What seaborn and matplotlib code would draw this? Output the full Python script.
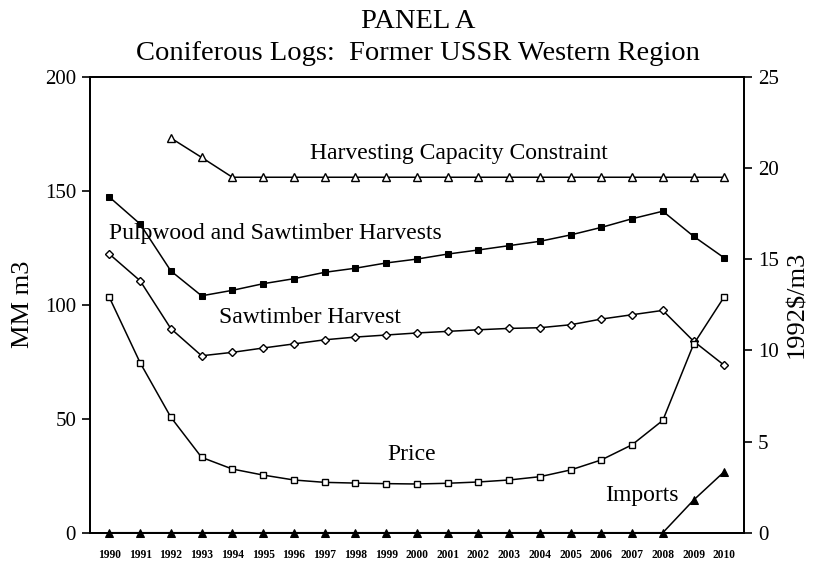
import matplotlib
matplotlib.use("Agg")
import matplotlib.pyplot as plt
import seaborn as sns
import pandas as pd

years = list(range(1990, 2011))
capacity_years = list(range(1992, 2011))
capacity = [173.1, 164.6] + [155.9] * 17
pulp_saw = [147.2, 135.4, 114.8, 103.9, 106.3, 109.2, 111.4, 114.2, 116.0, 118.3,
            120.0, 122.2, 124.0, 125.9, 127.8, 130.6, 133.9, 137.7, 141.0, 130.0, 120.5]
sawtimber = [122.2, 110.5, 89.5, 77.6, 79.1, 81.0, 82.8, 84.6, 85.8, 86.7,
             87.6, 88.3, 89.0, 89.6, 89.9, 91.2, 93.7, 95.6, 97.5, 84.0, 73.4]
price = [12.9, 9.32, 6.33, 4.13, 3.49, 3.16, 2.89, 2.76, 2.72, 2.69,
         2.67, 2.71, 2.78, 2.89, 3.07, 3.44, 3.99, 4.82, 6.16, 10.33, 12.94]
imports = [0] * 19 + [14.3, 26.8]

left_ticks = [0, 50, 100, 150, 200]
right_ticks = [0, 5, 10, 15, 20, 25]

sns.set_style("white")
plt.rcParams['font.family'] = ['Liberation Serif', 'DejaVu Serif']
plt.rcParams['text.color'] = 'black'
plt.rcParams['axes.labelcolor'] = 'black'
plt.rcParams['xtick.color'] = 'black'
plt.rcParams['ytick.color'] = 'black'

fig = plt.figure(figsize=(8.13, 5.64), dpi=100)
ax = fig.add_axes([90/813, 1-532.7/564, (744-90)/813, (532.7-76.7)/564])
ax2 = ax.twinx()

df_cap = pd.DataFrame({"year": capacity_years, "v": capacity})
df_all = pd.DataFrame({"year": years, "pulp": pulp_saw, "saw": sawtimber,
                       "price": price, "imp": imports})

lw = 1.1
common = dict(color="black", lw=lw, clip_on=False, markeredgecolor="black")
sns.lineplot(data=df_cap, x="year", y="v", ax=ax, marker="^", markersize=5.5,
             markerfacecolor="white", markeredgewidth=1.0, **common)
sns.lineplot(data=df_all, x="year", y="pulp", ax=ax, marker="s", markersize=5,
             markerfacecolor="black", **common)
sns.lineplot(data=df_all, x="year", y="saw", ax=ax, marker="D", markersize=3.6,
             markerfacecolor="white", markeredgewidth=1.0, **common)
sns.lineplot(data=df_all, x="year", y="imp", ax=ax, marker="^", markersize=5.5,
             markerfacecolor="black", **common)
sns.lineplot(data=df_all, x="year", y="price", ax=ax2, marker="s", markersize=4.8,
             markerfacecolor="white", markeredgewidth=1.0, **common)

for a in (ax, ax2):
    a.set_xlim(1989.37, 2010.64)
    for s in a.spines.values():
        s.set_color("black")
        s.set_linewidth(1.3)
ax.set_ylim(0, 200)
ax2.set_ylim(0, 25)
ax.set_yticks(left_ticks)
ax2.set_yticks(right_ticks)
ax.set_xticks(years)
ax.set_xticklabels([str(y) for y in years], fontsize=8.3, fontweight="bold")
ax.tick_params(axis="x", direction="in", length=4, width=1.2, pad=12, colors="black")
ax.tick_params(axis="y", direction="out", length=6, width=1.2, labelsize=15, pad=4, colors="black")
ax2.tick_params(axis="y", direction="out", length=6, width=1.2, labelsize=15, pad=4, colors="black")
ax.set_xlabel("")
ax.set_ylabel("MM m3", fontsize=19, labelpad=8, color="black")
ax2.set_ylabel("1992$/m3", fontsize=19, labelpad=5, color="black")

tfs = 17
ax.text(2001.36, 166.5, "Harvesting Capacity Constraint", fontsize=tfs, ha="center", va="center", color="black")
ax.text(1990.0, 131.4, "Pulpwood and Sawtimber Harvests", fontsize=tfs, ha="left", va="center", color="black")
ax.text(1996.53, 94.6, "Sawtimber Harvest", fontsize=tfs, ha="center", va="center", color="black")
ax.text(1999.84, 34.1, "Price", fontsize=tfs, ha="center", va="center", color="black")
ax.text(2007.32, 16.1, "Imports", fontsize=tfs, ha="center", va="center", color="black")

fig.text(418/813, 1-21/564, "PANEL A", fontsize=20.5, ha="center", va="center", color="black")
fig.text(418/813, 1-54/564, "Coniferous Logs:  Former USSR Western Region", fontsize=20.5,
         ha="center", va="center", color="black")

fig.savefig("out.png", dpi=100)
